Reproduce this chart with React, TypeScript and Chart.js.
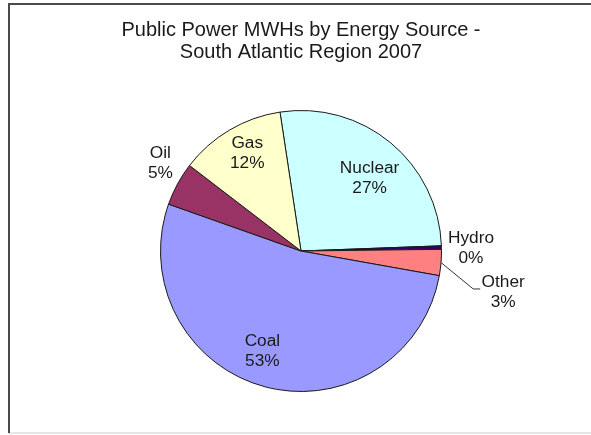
import React, { useEffect, useRef } from "react";
import { Chart, registerables } from "chart.js";

Chart.register(...registerables);

const categories = ["Nuclear", "Hydro", "Other", "Coal", "Oil", "Gas"];
const shares = [26.8, 0.4, 3.0, 52.6, 5.0, 12.2];
const percentLabels = ["27%", "0%", "3%", "53%", "5%", "12%"];
const sliceColors = ["#CCFFFF", "#330066", "#FF8080", "#9999FF", "#993366", "#FFFFCC"];
const titleLines = ["Public Power MWHs by Energy Source -", "South Atlantic Region 2007"];

const FONT = "'Liberation Sans', Arial, sans-serif";

const framePlugin = {
  id: "frame",
  beforeDraw(chart: any) {
    const { ctx, width, height } = chart;
    ctx.save();
    ctx.fillStyle = "#ffffff";
    ctx.fillRect(0, 0, width, height);
    ctx.fillStyle = "#e6e6e6";
    ctx.fillRect(8, height - 3, width - 8, 2);
    ctx.fillStyle = "#4a4a4a";
    ctx.fillRect(8, 3, width - 8, 2);
    ctx.fillRect(8, 3, 2, height - 5);
    ctx.restore();
  },
};

const sliceLabelPlugin = {
  id: "sliceLabels",
  afterDatasetsDraw(chart: any, _args: any, opts: any) {
    const { ctx } = chart;
    const meta = chart.getDatasetMeta(0);
    const names: string[] = chart.data.labels;
    ctx.save();
    ctx.font = `${opts.size}px ${FONT}`;
    ctx.fillStyle = opts.color;
    ctx.textAlign = "center";
    ctx.textBaseline = "middle";
    meta.data.forEach((arc: any, i: number) => {
      const { x, y, startAngle, endAngle, outerRadius } = arc.getProps(
        ["x", "y", "startAngle", "endAngle", "outerRadius"],
        true
      );
      const p = opts.placement[i];
      const baseMid = (startAngle + endAngle) / 2;
      const mid = baseMid + (p.shift * Math.PI) / 180;
      const lx = x + Math.cos(mid) * outerRadius * p.factor;
      const ly = y + Math.sin(mid) * outerRadius * p.factor;
      if (p.leader) {
        ctx.save();
        ctx.strokeStyle = "#333333";
        ctx.lineWidth = 1;
        ctx.beginPath();
        ctx.moveTo(x + Math.cos(baseMid) * outerRadius, y + Math.sin(baseMid) * outerRadius);
        ctx.lineTo(lx - 30, ly - 4);
        ctx.lineTo(lx - 23, ly - 4);
        ctx.stroke();
        ctx.restore();
      }
      ctx.save();
      ctx.translate(lx, ly);
      ctx.scale(opts.stretch, 1);
      ctx.fillText(names[i], 0, -opts.gap / 2);
      ctx.fillText(percentLabels[i], 0, opts.gap / 2);
      ctx.restore();
    });
    ctx.restore();
  },
};

export default function App() {
  const canvasRef = useRef<HTMLCanvasElement | null>(null);

  useEffect(() => {
    document.body.style.margin = "0";
    const canvas = canvasRef.current;
    if (!canvas) return;
    const chart = new Chart(canvas, {
      type: "pie",
      data: {
        labels: categories,
        datasets: [
          {
            data: shares,
            backgroundColor: sliceColors,
            borderColor: "#1a1a1a",
            borderWidth: 1,
          },
        ],
      },
      options: {
        animation: false,
        responsive: false,
        rotation: -8.6,
        layout: { padding: { left: 11, right: 0, top: 0, bottom: 43 } },
        plugins: {
          legend: { display: false },
          tooltip: { enabled: false },
          title: {
            display: true,
            text: titleLines,
            color: "#1a1a1a",
            font: { family: FONT, size: 20, weight: "normal", lineHeight: 1.1 },
            padding: { top: 19, bottom: 47 },
          },
          sliceLabels: {
            size: 16,
            gap: 20,
            stretch: 1.08,
            color: "#1a1a1a",
            placement: [
              { factor: 0.71, shift: 3.8 },
              { factor: 1.21, shift: 0.7 },
              { factor: 1.47, shift: 7, leader: true },
              { factor: 0.77, shift: 6.1 },
              { factor: 1.18, shift: 3.5 },
              { factor: 0.79, shift: 1.6 },
            ],
          },
        } as any,
      },
      plugins: [framePlugin, sliceLabelPlugin],
    });
    return () => chart.destroy();
  }, []);

  return (
    <div style={{ width: 591, height: 435 }}>
      <canvas ref={canvasRef} width={591} height={435} style={{ display: "block" }} />
    </div>
  );
}
